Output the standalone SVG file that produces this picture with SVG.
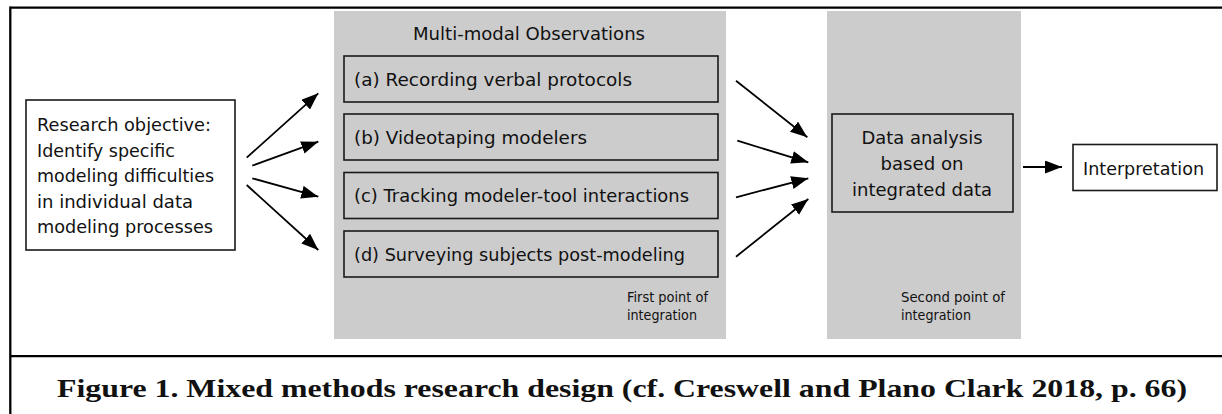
<svg xmlns="http://www.w3.org/2000/svg" width="1222" height="414" viewBox="0 0 1222 414">
<style>
.frame{stroke:#000;stroke-width:2.3;fill:none}
.panel{fill:#cccccc;stroke:none}
.box{fill:none;stroke:#1a1a1a;stroke-width:1.6}
.wbox{fill:#fff;stroke:#1a1a1a;stroke-width:1.6}
.t{font-family:"DejaVu Sans","Liberation Sans",sans-serif;font-size:18.5px;fill:#111}
.s{font-family:"DejaVu Sans","Liberation Sans",sans-serif;font-size:13.5px;fill:#111}
.cap{font-family:"Liberation Serif","DejaVu Serif",serif;font-size:25.5px;font-weight:bold;fill:#111}
.conn line{stroke:#000;stroke-width:1.8;marker-end:url(#ah)}
</style>
<defs>
<marker id="ah" markerUnits="userSpaceOnUse" markerWidth="18" markerHeight="14" refX="17" refY="6.5" orient="auto">
<path d="M0,0 L17,6.5 L0,13 Z" fill="#000"/>
</marker>
</defs>
<rect width="1222" height="414" fill="#fff"/>
<g id="frame">
<line class="frame" x1="10.3" y1="7.7" x2="1222" y2="7.7"/>
<line class="frame" x1="10.3" y1="6.5" x2="10.3" y2="414"/>
<line class="frame" x1="10.3" y1="356.2" x2="1222" y2="356.2"/>
</g>
<g id="panel1">
<rect class="panel" x="334" y="11" width="392" height="328"/>
<text class="t" x="413" y="39.5" textLength="232" lengthAdjust="spacingAndGlyphs">Multi-modal Observations</text>
<text class="s" x="627" y="302" textLength="81" lengthAdjust="spacingAndGlyphs">First point of</text>
<text class="s" x="627" y="319.5" textLength="70" lengthAdjust="spacingAndGlyphs">integration</text>
</g>
<g id="panel2">
<rect class="panel" x="827" y="11" width="194" height="328"/>
<text class="s" x="901" y="302" textLength="104" lengthAdjust="spacingAndGlyphs">Second point of</text>
<text class="s" x="901" y="319.5" textLength="70" lengthAdjust="spacingAndGlyphs">integration</text>
</g>
<g id="objective">
<rect class="wbox" x="26" y="100" width="209" height="150"/>
<text class="t" x="37" y="131" textLength="174" lengthAdjust="spacingAndGlyphs">Research objective:</text>
<text class="t" x="37" y="156.5" textLength="138" lengthAdjust="spacingAndGlyphs">Identify specific</text>
<text class="t" x="37" y="182" textLength="177" lengthAdjust="spacingAndGlyphs">modeling difficulties</text>
<text class="t" x="37" y="207.5" textLength="156" lengthAdjust="spacingAndGlyphs">in individual data</text>
<text class="t" x="37" y="233" textLength="176" lengthAdjust="spacingAndGlyphs">modeling processes</text>
</g>
<g id="obs-a">
<rect class="box" x="344" y="56" width="374" height="46"/>
<text class="t" x="354" y="86" textLength="278" lengthAdjust="spacingAndGlyphs">(a) Recording verbal protocols</text>
</g>
<g id="obs-b">
<rect class="box" x="344" y="114" width="374" height="46"/>
<text class="t" x="354" y="144" textLength="233" lengthAdjust="spacingAndGlyphs">(b) Videotaping modelers</text>
</g>
<g id="obs-c">
<rect class="box" x="344" y="172.5" width="374" height="46"/>
<text class="t" x="354" y="202" textLength="335" lengthAdjust="spacingAndGlyphs">(c) Tracking modeler-tool interactions</text>
</g>
<g id="obs-d">
<rect class="box" x="344" y="231" width="374" height="46"/>
<text class="t" x="354" y="260.5" textLength="331" lengthAdjust="spacingAndGlyphs">(d) Surveying subjects post-modeling</text>
</g>
<g id="analysis">
<rect class="box" x="832" y="114" width="181" height="98"/>
<text class="t" x="922" y="144" text-anchor="middle" textLength="121" lengthAdjust="spacingAndGlyphs">Data analysis</text>
<text class="t" x="922" y="170" text-anchor="middle" textLength="83" lengthAdjust="spacingAndGlyphs">based on</text>
<text class="t" x="922" y="196" text-anchor="middle" textLength="140" lengthAdjust="spacingAndGlyphs">integrated data</text>
</g>
<g id="interpretation">
<rect class="wbox" x="1073" y="144.5" width="144" height="46"/>
<text class="t" x="1083" y="175" textLength="121" lengthAdjust="spacingAndGlyphs">Interpretation</text>
</g>
<g id="connectors" class="conn">
<line x1="246.7" y1="157.7" x2="318.3" y2="93.3"/>
<line x1="252.3" y1="165.7" x2="318.3" y2="141.7"/>
<line x1="252.3" y1="178.3" x2="318.3" y2="196.7"/>
<line x1="246.7" y1="185" x2="318.3" y2="250"/>
<line x1="736" y1="80.7" x2="807.3" y2="137.3"/>
<line x1="737.3" y1="140.7" x2="808.3" y2="162.3"/>
<line x1="736" y1="197.3" x2="808.3" y2="178.3"/>
<line x1="736" y1="256.7" x2="808.3" y2="199"/>
<line x1="1023" y1="167" x2="1062" y2="167"/>
</g>
<g id="caption">
<text class="cap" x="57" y="397" textLength="1130" lengthAdjust="spacingAndGlyphs">Figure 1. Mixed methods research design (cf. Creswell and Plano Clark 2018, p. 66)</text>
</g>
</svg>
